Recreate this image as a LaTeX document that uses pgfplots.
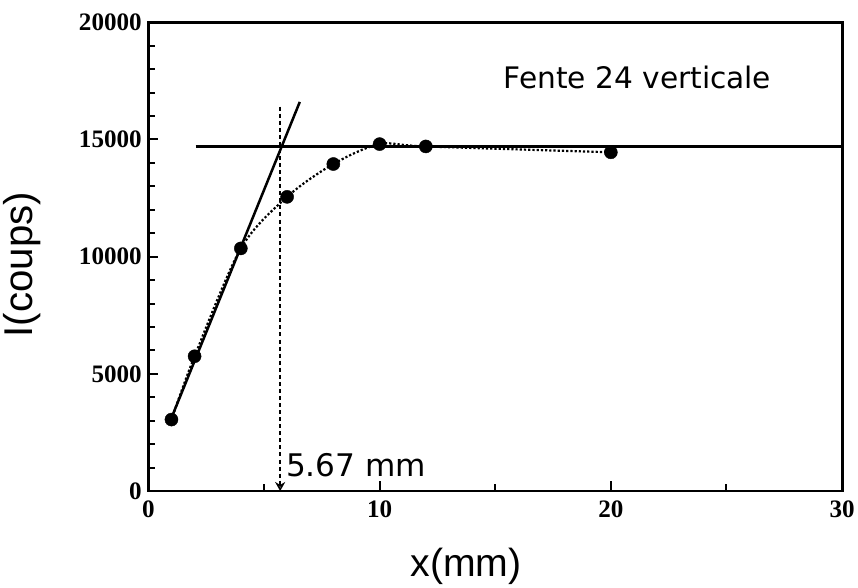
\documentclass[border=0pt]{standalone}
\usepackage{pgfplots}
\pgfplotsset{compat=1.18}
\usetikzlibrary{arrows.meta}
\usepackage{fontspec}
\setmainfont{Liberation Serif}
\newfontfamily\arial{Liberation Sans}
\newfontfamily\gothic{DejaVu Sans}
\begin{document}
\begin{tikzpicture}
\begin{axis}[
  scale only axis, width=688bp, height=465bp,
  xmin=0, xmax=30, ymin=0, ymax=20000,
  xtick={0,10,20,30}, minor xtick={5,15,25},
  ytick={0,5000,10000,15000,20000},
  minor ytick={1000,2000,3000,4000,6000,7000,8000,9000,11000,12000,13000,14000,16000,17000,18000,19000},
  tick align=inside, xtick pos=bottom, ytick pos=left,
  major tick length=10bp, minor tick length=7bp,
  axis line style={line width=2.8pt},
  every tick/.style={line width=2pt, black},
  tick label style={font=\fontsize{25}{25}\selectfont\bfseries},
  xticklabel style={yshift=-6bp},
  yticklabel style={xshift=-3bp},
  /pgf/number format/assume math mode=true,
  /pgf/number format/1000 sep={},
  scaled y ticks=false,
  xlabel={x(mm)}, ylabel={I(coups)},
  every axis x label/.style={at={(axis description cs:0.458,-0.16)}, anchor=center, font=\arial\fontsize{39}{39}\selectfont},
  every axis y label/.style={at={(axis description cs:-0.182,0.483)}, anchor=center, rotate=90, font=\arial\fontsize{40}{40}\selectfont},
  clip=false,
]
\addplot[black, line width=2.5pt] coordinates {(2.05,14700) (30,14700)};
\addplot[black, line width=2.5pt] coordinates {(0.95,3000) (6.55,16600)};
\addplot[black, dotted, line width=2.2pt, smooth] coordinates {
  (1,3050) (2,5750) (4,10350) (6,12550) (8,13950) (10,14800) (12,14700) (20,14450)};
\addplot[black, only marks, mark=*, mark size=6.5bp] coordinates {
  (1,3050) (2,5750) (4,10350) (6,12550) (8,13950) (10,14800) (12,14700) (20,14450)};
\addplot[black, line width=2.2pt, dash pattern=on 4bp off 3bp, -{Stealth[open, length=9bp, width=10bp]}] coordinates {(5.7,16400) (5.7,0)};
\node[font=\gothic\fontsize{29.5}{29.5}\selectfont] at (axis cs:21.15,17650) {Fente 24 verticale};
\node[anchor=west, inner sep=0pt, font=\gothic\fontsize{31}{31}\selectfont] at (axis cs:5.95,1100) {5.67 mm};
\path (rel axis cs:0,1) ++(0,22bp) rectangle ++(1bp,0);
\end{axis}
\end{tikzpicture}
\end{document}
